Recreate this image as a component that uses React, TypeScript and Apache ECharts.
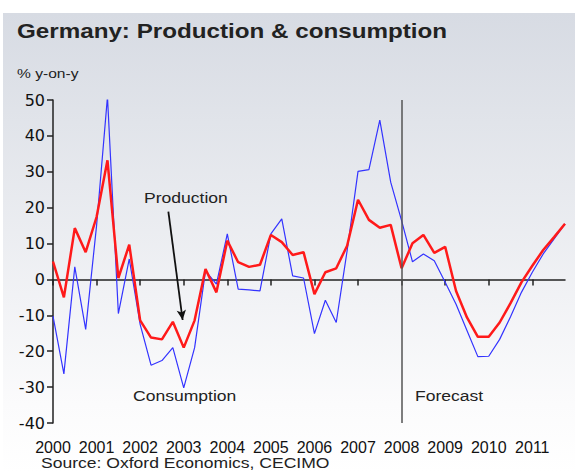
import React, { useEffect, useRef } from "react";
import * as echarts from "echarts";

const years = ["2000", "2001", "2002", "2003", "2004", "2005", "2006", "2007", "2008", "2009", "2010", "2011"];
// quarterly, 2000Q1 .. 2011Q4
const production = [
  5.0, -5.0, 14.3, 7.6, 17.4, 33.2, 0.4, 9.7,
  -11.4, -16.2, -16.7, -11.8, -19.0, -11.4, 2.9, -3.6,
  10.8, 4.8, 3.5, 4.1, 12.4, 10.4, 6.8, 7.6,
  -4.1, 2.0, 3.1, 9.4, 22.2, 16.6, 14.4, 15.2,
  3.1, 10.1, 12.4, 7.4, 9.1, -3.2, -10.6, -16.0,
  -16.0, -12.0, -6.6, -0.8, 3.8, 8.2, 11.8, 15.5,
];
const consumption = [
  -10.2, -26.3, 3.5, -13.9, 15.0, 50.9, -9.5, 5.7,
  -12.5, -23.9, -22.6, -19.0, -30.2, -19.0, 2.4, -1.3,
  12.7, -2.7, -2.9, -3.2, 12.7, 16.9, 1.0, 0.4,
  -15.1, -5.8, -12.0, 8.0, 30.1, 30.6, 44.4, 27.1,
  16.4, 4.9, 7.1, 5.2, -0.8, -6.9, -14.2, -21.5,
  -21.4, -16.7, -10.4, -3.6, 2.0, 7.1, 11.3, 15.5,
];
const yearTicks = [0, 4, 8, 12, 16, 20, 24, 28, 32, 36, 40, 44];
const forecastStart = 32;

const FONT = "'Liberation Sans', Arial, sans-serif";
const WIDE = "'DejaVu Sans', sans-serif";

export default function App() {
  const ref = useRef<HTMLDivElement>(null);
  useEffect(() => {
    if (!ref.current) return;
    const chart = echarts.init(ref.current, null, { renderer: "svg" });
    const toPairs = (arr: number[]) => arr.map((v, i) => [i, v]);
    const note = (text: string, x: number, y: number, size = 15, sx = 1.17, weight = "normal") => ({
      type: "text",
      x,
      y,
      scaleX: sx,
      style: { text, font: `${weight} ${size}px ${FONT}`, fill: "#222", textVerticalAlign: "top" },
    });
    chart.setOption({
      animation: false,
      backgroundColor: "#ffffff",
      textStyle: { fontFamily: FONT },
      grid: { left: 53, right: 10, top: 100, bottom: 50, containLabel: false },
      xAxis: {
        type: "value",
        min: 0,
        max: 47,
        axisLine: { show: true, lineStyle: { color: "#222", width: 1.5 } },
        axisTick: { show: true, length: 6, inside: false, customValues: yearTicks, lineStyle: { color: "#222", width: 1.5 } },
        axisLabel: {
          customValues: yearTicks,
          formatter: (v: number) => years[Math.round(v / 4)] ?? "",
          color: "#111",
          fontSize: 16,
          fontFamily: FONT,
          margin: 16,
        },
        splitLine: { show: false },
      },
      yAxis: {
        type: "value",
        min: -40,
        max: 50,
        interval: 10,
        axisLine: { show: true, lineStyle: { color: "#222", width: 1.5 } },
        axisTick: { show: true, length: 6, inside: false, lineStyle: { color: "#222", width: 1.5 } },
        axisLabel: { color: "#111", fontSize: 16, fontFamily: WIDE, margin: 8 },
        splitLine: { show: false },
      },
      graphic: [
        {
          type: "rect",
          z: -10,
          silent: true,
          shape: { x: 3, y: 13, width: 572, height: 460 },
          style: {
            fill: new echarts.graphic.LinearGradient(0, 0, 0, 1, [
              { offset: 0, color: "#d7dbe3" },
              { offset: 0.85, color: "#fbfbfc" },
              { offset: 1, color: "#ffffff" },
            ]),
          },
        },
        note("Germany: Production & consumption", 17, 21, 20, 1.21, "bold"),
        note("% y-on-y", 17, 67, 13, 1.2),
        note("Production", 144, 190),
        note("Consumption", 133, 388),
        note("Forecast", 415, 388),
        note("Source: Oxford Economics, CECIMO", 41, 455),
      ],
      series: [
        {
          type: "line",
          name: "Consumption",
          data: toPairs(consumption),
          symbol: "none",
          lineStyle: { color: "#3333ff", width: 1.2 },
          z: 2,
        },
        {
          type: "line",
          name: "Production",
          data: toPairs(production),
          symbol: "none",
          lineStyle: { color: "#ff1a1a", width: 2.5 },
          z: 3,
          markLine: {
            silent: true,
            symbol: ["none", "none"],
            label: { show: false },
            lineStyle: { color: "#555", width: 1.5, type: "solid" },
            data: [{ xAxis: forecastStart }],
          },
        },
        {
          type: "line",
          name: "arrow",
          data: [],
          markLine: {
            silent: true,
            symbol: ["none", "arrow"],
            symbolSize: [7, 10],
            label: { show: false },
            lineStyle: { color: "#111", width: 1.8, type: "solid" },
            data: [[{ coord: [10.59, 18.9] }, { coord: [11.9, -11.3] }]],
          },
        },
      ],
    });
    return () => chart.dispose();
  }, []);
  return <div ref={ref} style={{ width: 575, height: 473, position: "absolute", left: 0, top: 0 }} />;
}
